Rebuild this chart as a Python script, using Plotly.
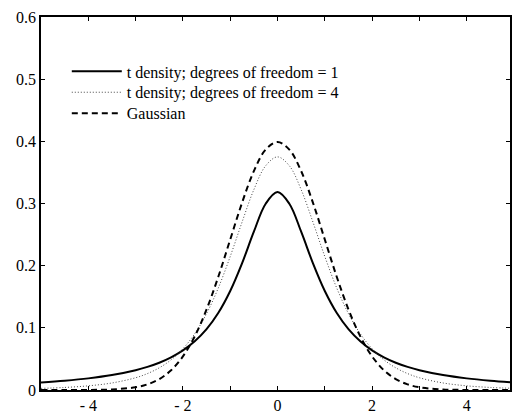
import plotly.graph_objects as go

x_vals = [-5, -4.5, -4, -3.5, -3, -2.75, -2.5, -2.25, -2, -1.75, -1.5, -1.25, -1, -0.75, -0.5, -0.25,
          0, 0.25, 0.5, 0.75, 1, 1.25, 1.5, 1.75, 2, 2.25, 2.5, 2.75, 3, 3.5, 4, 4.5, 5]

t_df1 = [0.0122, 0.0150, 0.0187, 0.0240, 0.0318, 0.0372, 0.0439, 0.0525, 0.0637, 0.0784, 0.0979, 0.1242,
         0.1592, 0.2037, 0.2546, 0.2996, 0.3183, 0.2996, 0.2546, 0.2037, 0.1592, 0.1242, 0.0979, 0.0784,
         0.0637, 0.0525, 0.0439, 0.0372, 0.0318, 0.0240, 0.0187, 0.0150, 0.0122]

t_df4 = [0.0026, 0.0041, 0.0067, 0.0113, 0.0197, 0.0264, 0.0357, 0.0485, 0.0663, 0.0905, 0.1229, 0.1644,
         0.2147, 0.2699, 0.3223, 0.3607, 0.3750, 0.3607, 0.3223, 0.2699, 0.2147, 0.1644, 0.1229, 0.0905,
         0.0663, 0.0485, 0.0357, 0.0264, 0.0197, 0.0113, 0.0067, 0.0041, 0.0026]

gaussian = [0.0000, 0.0000, 0.0001, 0.0009, 0.0044, 0.0091, 0.0175, 0.0317, 0.0540, 0.0863, 0.1295, 0.1826,
            0.2420, 0.3011, 0.3521, 0.3867, 0.3989, 0.3867, 0.3521, 0.3011, 0.2420, 0.1826, 0.1295, 0.0863,
            0.0540, 0.0317, 0.0175, 0.0091, 0.0044, 0.0009, 0.0001, 0.0000, 0.0000]

names = ["t density; degrees of freedom = 1", "t density; degrees of freedom = 4", "Gaussian"]

x_tickvals = [-4, -3, -2, -1, 0, 1, 2, 3, 4]
x_ticktext = ["- 4", "", "- 2", "", "0", "", "2", "", "4"]
y_tickvals = [0, 0.1, 0.2, 0.3, 0.4, 0.5, 0.6]
y_ticktext = ["0", "0.1", "0.2", "0.3", "0.4", "0.5", "0.6"]

font_family = "Times New Roman, Liberation Serif, Tinos, serif"

fig = go.Figure()
fig.add_trace(go.Scatter(x=x_vals, y=t_df1, mode="lines", name=names[0], legend="legend",
                         line=dict(color="black", width=2, shape="spline")))
fig.add_trace(go.Scatter(x=x_vals, y=t_df4, mode="lines", name=names[1], legend="legend2",
                         line=dict(color="#444444", width=1, dash="1px,2px", shape="spline")))
fig.add_trace(go.Scatter(x=x_vals, y=gaussian, mode="lines", name=names[2], legend="legend3",
                         line=dict(color="black", width=2, dash="6px,4px", shape="spline")))

leg_common = dict(x=0.055, xanchor="left", yanchor="middle",
                  bgcolor="rgba(0,0,0,0)", borderwidth=0,
                  font=dict(family=font_family, size=16, color="black"),
                  itemwidth=50)

fig.update_layout(
    width=512, height=414,
    margin=dict(l=41, r=0, t=17, b=21),
    paper_bgcolor="white", plot_bgcolor="white",
    font=dict(family=font_family, size=16, color="black"),
    showlegend=True,
    legend=dict(y=0.854, **leg_common),
    legend2=dict(y=0.798, **leg_common),
    legend3=dict(y=0.742, **leg_common),
)
fig.update_xaxes(range=[-5, 4.915], tickvals=x_tickvals, ticktext=x_ticktext,
                 showgrid=False, zeroline=False, showline=True, linecolor="black", linewidth=1.5,
                 mirror="ticks", ticks="inside", ticklen=4, tickcolor="black", tickwidth=1,
                 tickfont=dict(family=font_family, size=16, color="black"))
fig.update_yaxes(range=[0, 0.6], tickvals=y_tickvals, ticktext=y_ticktext,
                 showgrid=False, zeroline=False, showline=True, linecolor="black", linewidth=1.5,
                 mirror="ticks", ticks="inside", ticklen=4, tickcolor="black", tickwidth=1,
                 tickfont=dict(family=font_family, size=16, color="black"))

fig.write_html("out.html")
